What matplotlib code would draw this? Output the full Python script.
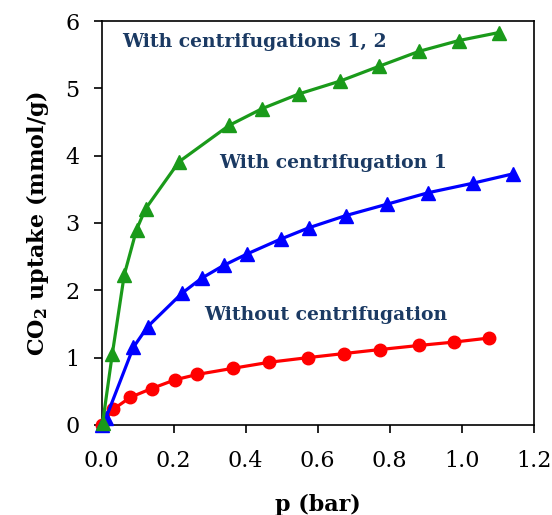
import numpy as np
import matplotlib
matplotlib.use("Agg")
import matplotlib.pyplot as plt

plt.rcParams["font.family"] = ["DejaVu Serif"]
plt.rcParams["mathtext.fontset"] = "dejavuserif"

# without centrifugation (red circles)
p_red = [0.0, 0.032, 0.080, 0.139, 0.204, 0.266, 0.364, 0.465, 0.574, 0.673, 0.774, 0.881, 0.978, 1.075]
q_red = [0.0, 0.23, 0.41, 0.54, 0.67, 0.75, 0.84, 0.93, 1.00, 1.06, 1.12, 1.18, 1.23, 1.29]

# with centrifugation 1 (blue triangles)
p_blue = [0.0, 0.012, 0.088, 0.128, 0.224, 0.278, 0.339, 0.404, 0.497, 0.576, 0.678, 0.793, 0.907, 1.030, 1.142]
q_blue = [0.0, 0.10, 1.15, 1.46, 1.96, 2.18, 2.37, 2.54, 2.76, 2.93, 3.11, 3.28, 3.45, 3.59, 3.73]

# with centrifugations 1, 2 (green triangles)
p_green = [0.003, 0.030, 0.063, 0.097, 0.122, 0.215, 0.354, 0.446, 0.549, 0.663, 0.771, 0.881, 0.991, 1.103]
q_green = [0.03, 1.06, 2.23, 2.90, 3.21, 3.91, 4.45, 4.70, 4.92, 5.11, 5.33, 5.55, 5.71, 5.83]

labels = ["Without centrifugation", "With centrifugation 1", "With centrifugations 1, 2"]
text_color = "#1b3a63"

fig = plt.figure(figsize=(5.52, 5.15), dpi=100)
ax = fig.add_axes([0.184, 0.175, 0.783, 0.784])

ax.plot(p_red, q_red, "-o", color="#ff0000", lw=2.3, ms=9, clip_on=False, zorder=3)
ax.plot(p_blue, q_blue, "-^", color="#0000ff", lw=2.3, ms=10, clip_on=False, zorder=4)
ax.plot(p_green, q_green, "-^", color="#1a9a1a", lw=2.3, ms=10, clip_on=False, zorder=5)

ax.text(0.284, 1.63, labels[0], color=text_color, fontsize=13.5, fontweight="bold", va="center")
ax.text(0.327, 3.89, labels[1], color=text_color, fontsize=13.5, fontweight="bold", va="center")
ax.text(0.056, 5.69, labels[2], color=text_color, fontsize=13.5, fontweight="bold", va="center")

ax.set_xlim(0, 1.2)
ax.set_ylim(0, 6)
ax.set_xticks(np.arange(0, 1.21, 0.2))
ax.set_xticklabels(["0.0", "0.2", "0.4", "0.6", "0.8", "1.0", "1.2"])
ax.set_yticks(range(0, 7))
ax.tick_params(direction="out", length=6, width=1.2, labelsize=16)
ax.tick_params(axis="x", pad=12)
ax.tick_params(axis="y", pad=10)
for s in ax.spines.values():
    s.set_linewidth(1.2)

ax.set_xlabel("p (bar)", fontsize=16, fontweight="bold", labelpad=16)
ax.set_ylabel(r"CO$_\mathbf{2}$ uptake (mmol/g)", fontsize=16, fontweight="bold", labelpad=10)

fig.savefig("out.png", dpi=100)
